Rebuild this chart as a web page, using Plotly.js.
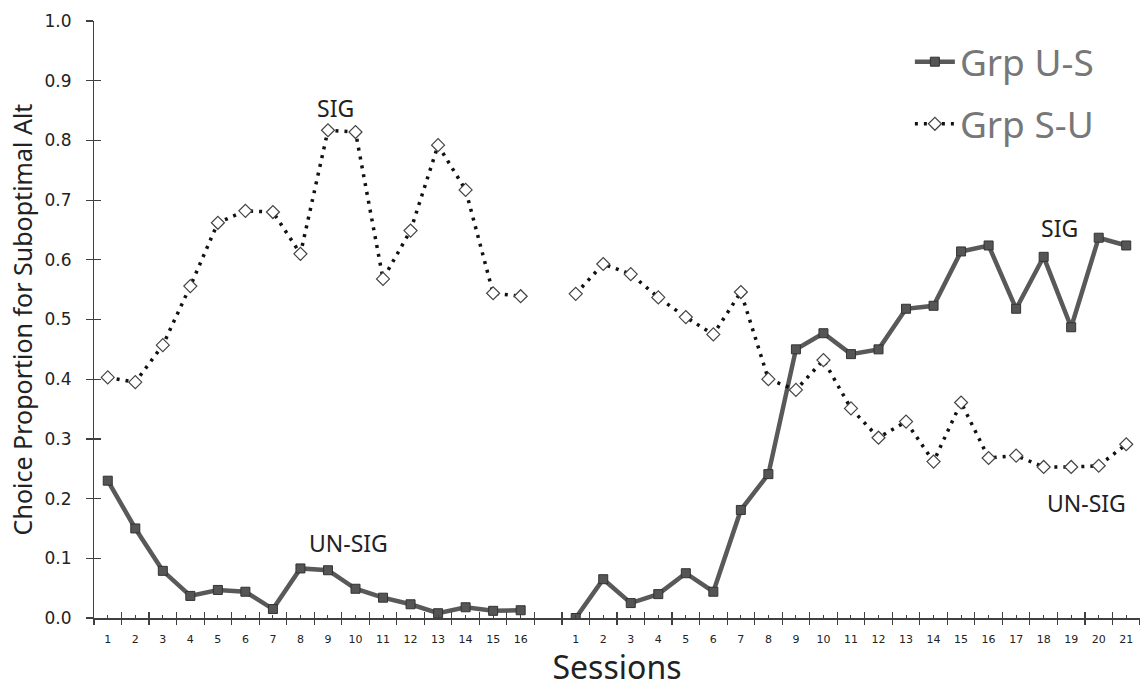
<!DOCTYPE html>
<html>
<head>
<meta charset="utf-8">
<script src="https://cdn.plot.ly/plotly-3.0.1.min.js"></script>
<style>html,body{margin:0;padding:0;background:#fff;}#chart{width:1140px;height:688px;}</style>
</head>
<body>
<div id="chart"></div>
<script>
// Session labels for the two phases
const sessionsPhase1 = [1,2,3,4,5,6,7,8,9,10,11,12,13,14,15,16];
const sessionsPhase2 = [1,2,3,4,5,6,7,8,9,10,11,12,13,14,15,16,17,18,19,20,21];

// Grp U-S (solid line, squares)
const grpUS_phase1 = [0.230,0.150,0.079,0.037,0.047,0.044,0.015,0.083,0.080,0.049,0.034,0.023,0.008,0.018,0.012,0.013];
const grpUS_phase2 = [0.000,0.065,0.025,0.040,0.075,0.044,0.181,0.241,0.450,0.477,0.442,0.450,0.518,0.523,0.614,0.624,0.518,0.605,0.487,0.637,0.624];

// Grp S-U (dotted line, diamonds)
const grpSU_phase1 = [0.403,0.395,0.457,0.556,0.662,0.682,0.680,0.610,0.817,0.814,0.568,0.649,0.792,0.717,0.544,0.539];
const grpSU_phase2 = [0.543,0.593,0.576,0.537,0.504,0.475,0.546,0.400,0.382,0.432,0.351,0.302,0.329,0.262,0.361,0.268,0.272,0.253,0.253,0.255,0.291];

const seriesNames = ["Grp U-S", "Grp S-U"];
const annotationTexts = ["SIG", "UN-SIG", "SIG", "UN-SIG"];

// category positions: phase 1, one empty slot, phase 2
const n1 = sessionsPhase1.length, n2 = sessionsPhase2.length;
const totalCats = n1 + 1 + n2;
const xPos = [];
for (let i = 0; i < totalCats; i++) xPos.push(i);
const tickCenters = [], tickLabels = [];
sessionsPhase1.forEach((s, i) => { tickCenters.push(i); tickLabels.push(String(s)); });
sessionsPhase2.forEach((s, i) => { tickCenters.push(n1 + 1 + i); tickLabels.push(String(s)); });
const boundaries = [];
for (let i = 0; i <= totalCats; i++) boundaries.push(i - 0.5);

const yUS = grpUS_phase1.concat([null], grpUS_phase2);
const ySU = grpSU_phase1.concat([null], grpSU_phase2);

const traces = [
  {
    x: xPos, y: yUS, name: seriesNames[0], type: 'scatter', mode: 'lines+markers',
    legendgroup: 'a', connectgaps: false,
    line: {color: '#595959', width: 4.5},
    marker: {symbol: 'square', size: 9, color: '#555555', line: {color: '#333', width: 1}}
  },
  {
    x: xPos, y: ySU, name: seriesNames[1], type: 'scatter', mode: 'lines+markers',
    legendgroup: 'b', connectgaps: false,
    line: {color: '#111', width: 3.5, dash: '3px,6px'},
    marker: {symbol: 'diamond', size: 10, color: '#ffffff', line: {color: '#444', width: 1.2}}
  },
  // carrier traces (no visible marks) so the crossing tick-mark axes get drawn
  {x: xPos, y: yUS, xaxis: 'x2', yaxis: 'y', mode: 'none', showlegend: false, hoverinfo: 'skip'},
  {x: xPos, y: yUS, xaxis: 'x3', yaxis: 'y', mode: 'none', showlegend: false, hoverinfo: 'skip'},
  {x: xPos, y: yUS, xaxis: 'x', yaxis: 'y2', mode: 'none', showlegend: false, hoverinfo: 'skip'},
  {x: xPos, y: yUS, xaxis: 'x', yaxis: 'y3', mode: 'none', showlegend: false, hoverinfo: 'skip'}
];

const axisColor = '#404040';
const xRange = [-0.5, totalCats - 0.5];
const yRange = [0, 1.0];

const layout = {
  width: 1140, height: 688,
  margin: {l: 94, r: 0, t: 21, b: 70},
  paper_bgcolor: '#fff', plot_bgcolor: '#fff',
  showlegend: true,
  legend: {
    x: 0.78, y: 0.983, xanchor: 'left', yanchor: 'top',
    font: {family: 'Noto Sans', size: 37, color: '#777'},
    bgcolor: 'rgba(0,0,0,0)', traceorder: 'grouped', tracegroupgap: 11,
    itemwidth: 40
  },
  xaxis: {
    range: xRange, showgrid: false, zeroline: false,
    showline: true, linecolor: axisColor, linewidth: 1.5,
    tickmode: 'array', tickvals: tickCenters, ticktext: tickLabels,
    ticks: 'inside', ticklen: 3, tickcolor: axisColor, tickwidth: 1,
    ticklabelstandoff: 10,
    tickfont: {family: 'DejaVu Sans', size: 11, color: '#222'},
    title: {text: 'Sessions', font: {family: 'Noto Sans', size: 32, color: '#222'}, standoff: 0}
  },
  xaxis2: {
    range: xRange, overlaying: 'x', anchor: 'y', side: 'bottom',
    showgrid: false, zeroline: false, showline: false,
    tickmode: 'array', tickvals: boundaries, showticklabels: false,
    ticks: 'outside', ticklen: 6, tickcolor: axisColor, tickwidth: 1.2
  },
  xaxis3: {
    range: xRange, overlaying: 'x', anchor: 'y', side: 'bottom',
    showgrid: false, zeroline: false, showline: false,
    tickmode: 'array', tickvals: boundaries, showticklabels: false,
    ticks: 'inside', ticklen: 6, tickcolor: axisColor, tickwidth: 1.2
  },
  yaxis: {
    range: yRange, showgrid: false, zeroline: false,
    showline: true, linecolor: axisColor, linewidth: 1.5,
    tickmode: 'linear', tick0: 0, dtick: 0.1, showticklabels: false,
    ticks: 'outside', ticklen: 7, tickcolor: axisColor, tickwidth: 1.2,
    title: {text: 'Choice Proportion for Suboptimal Alt', font: {family: 'Noto Sans', size: 25, color: '#222'}, standoff: 46}
  },
  yaxis2: {
    range: yRange, overlaying: 'y', anchor: 'x', side: 'left',
    showgrid: false, zeroline: false, showline: false,
    tickmode: 'linear', tick0: 0, dtick: 0.1, showticklabels: false,
    ticks: 'inside', ticklen: 7, tickcolor: axisColor, tickwidth: 1.2
  },
  yaxis3: {
    range: yRange, overlaying: 'y', anchor: 'x', side: 'left',
    showgrid: false, zeroline: false, showline: false,
    tickmode: 'linear', tick0: 0, dtick: 0.1, tickformat: '.1f',
    ticks: 'outside', ticklen: 18, tickcolor: 'rgba(0,0,0,0)',
    tickfont: {family: 'DejaVu Sans', size: 17, color: '#222'}
  },
  annotations: [
    {x: 8.29, y: 0.854, xref: 'x', yref: 'y', text: annotationTexts[0], showarrow: false, font: {family: 'Noto Sans', size: 23, color: '#222'}},
    {x: 8.76, y: 0.126, xref: 'x', yref: 'y', text: annotationTexts[1], showarrow: false, font: {family: 'Noto Sans', size: 23, color: '#222'}},
    {x: 34.59, y: 0.653, xref: 'x', yref: 'y', text: annotationTexts[2], showarrow: false, font: {family: 'Noto Sans', size: 23, color: '#222'}},
    {x: 35.57, y: 0.193, xref: 'x', yref: 'y', text: annotationTexts[3], showarrow: false, font: {family: 'Noto Sans', size: 23, color: '#222'}}
  ]
};

Plotly.newPlot('chart', traces, layout, {displayModeBar: false, staticPlot: true});
</script>
</body>
</html>
